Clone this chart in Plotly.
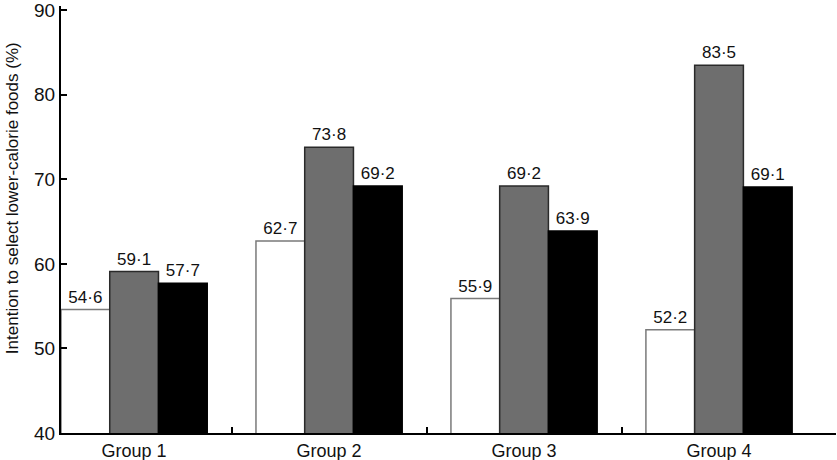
import plotly.graph_objects as go

groups = ["Group 1", "Group 2", "Group 3", "Group 4"]
series_a = [54.6, 62.7, 55.9, 52.2]
series_b = [59.1, 73.8, 69.2, 83.5]
series_c = [57.7, 69.2, 63.9, 69.1]
y_ticks = [40, 50, 60, 70, 80, 90]
y_title = "Intention to select lower-calorie foods (%)"

def fmt(v):
    return f"{v:.1f}".replace(".", "·")

FONT = "Liberation Sans, Arial, sans-serif"

fig = go.Figure()
styles = [
    ("#ffffff", "#7a7a7a", series_a),
    ("#6e6e6e", "#2a2a2a", series_b),
    ("#000000", "#000000", series_c),
]
for fill, line, vals in styles:
    fig.add_trace(go.Bar(
        x=groups, y=vals,
        marker=dict(color=fill, line=dict(color=line, width=1.5)),
        text=[fmt(v) for v in vals], textposition="outside",
        textfont=dict(family=FONT, size=17, color="#111"),
        cliponaxis=False, showlegend=False, hoverinfo="skip",
    ))

# invisible trace for the boundary tick axis
fig.add_trace(go.Scatter(x=[0], y=[40], xaxis="x2", mode="markers",
                         marker=dict(opacity=0), showlegend=False, hoverinfo="skip"))

xr = [-0.375, 3.6]
fig.update_layout(
    width=837, height=460,
    margin=dict(l=61, r=1, t=6, b=27, autoexpand=False),
    paper_bgcolor="white", plot_bgcolor="white",
    barmode="group", bargap=0.25, bargroupgap=0,
    font=dict(family=FONT, color="#111"),
    xaxis=dict(range=xr, showline=True, linecolor="black", linewidth=2,
               ticks="", showgrid=False, zeroline=False, automargin=False,
               ticklabeloverflow="allow",
               tickfont=dict(family=FONT, size=18, color="#111")),
    xaxis2=dict(range=xr, overlaying="x", anchor="y", side="bottom",
                tickmode="array", tickvals=[0.5, 1.5, 2.5, 3.6],
                ticks="inside", ticklen=6, tickwidth=2, tickcolor="black",
                showticklabels=False, showgrid=False, zeroline=False,
                showline=False, automargin=False),
    yaxis=dict(range=[40, 90.5], tickmode="array", tickvals=y_ticks,
               ticks="inside", ticklen=6, tickwidth=2, tickcolor="black",
               showline=True, linecolor="black", linewidth=2,
               showgrid=False, zeroline=False, automargin=False,
               ticklabeloverflow="allow",
               tickfont=dict(family=FONT, size=19, color="#111")),
    annotations=[dict(text=y_title, textangle=-90, xref="paper", yref="paper",
                      x=0, y=0.55, xshift=-49, xanchor="center", yanchor="middle",
                      showarrow=False, font=dict(family=FONT, size=17, color="#111"))],
)

fig.write_html("out.html", config={"displayModeBar": False},
               post_script="document.body.style.margin='0';document.body.style.padding='0';")
